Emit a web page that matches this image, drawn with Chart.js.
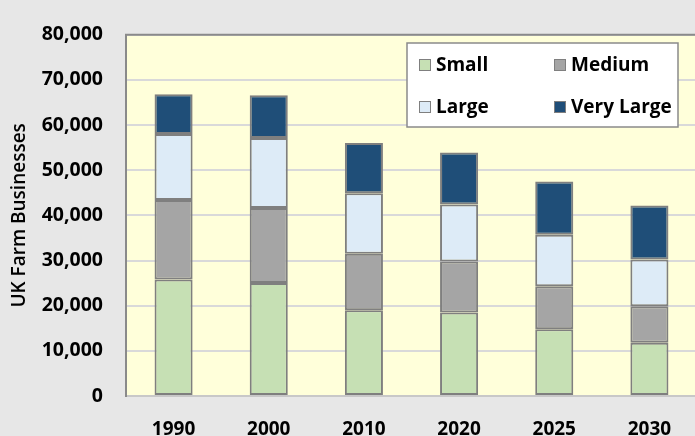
<!DOCTYPE html>
<html>
<head>
<meta charset="utf-8">
<script src="https://cdn.jsdelivr.net/npm/chart.js@4.4.1/dist/chart.umd.min.js"></script>
<style>
  body { margin: 0; background: #e7e7e7; }
  #wrap { width: 695px; height: 436px; overflow: hidden; }
</style>
</head>
<body>
<div id="wrap"><canvas id="graficoFazendas" width="697" height="436"></canvas></div>
<script>
const anos = ['1990', '2000', '2010', '2020', '2025', '2030'];
const pequenas = [25800, 25000, 19000, 18500, 14800, 11800];
const medias = [17600, 16600, 12500, 11300, 9500, 8100];
const grandes = [14600, 15500, 13400, 12600, 11400, 10300];
const muitoGrandes = [8800, 9500, 11100, 11500, 11800, 12000];

const fonte = "'Open Sans', 'DejaVu Sans', sans-serif";

function serie(label, data, cor) {
  return {
    label: label,
    data: data,
    backgroundColor: cor,
    borderColor: '#7f7f7f',
    borderWidth: 2,
    borderSkipped: false,
    barPercentage: 0.4,
    categoryPercentage: 1.0
  };
}

// fundo amarelo da area do grafico + borda de cima
const fundoPlot = {
  id: 'fundoPlot',
  beforeDraw(chart) {
    const { ctx, chartArea } = chart;
    ctx.save();
    ctx.fillStyle = '#ffffda';
    ctx.fillRect(chartArea.left, chartArea.top, chartArea.right - chartArea.left, chartArea.bottom - chartArea.top);
    ctx.restore();
  },
  afterDatasetsDraw(chart) {
    const { ctx, chartArea } = chart;
    ctx.save();
    ctx.strokeStyle = '#8a8a8a';
    ctx.lineWidth = 2;
    ctx.beginPath();
    ctx.moveTo(chartArea.left - 1, chartArea.top);
    ctx.lineTo(chartArea.right, chartArea.top);
    ctx.stroke();
    ctx.restore();
  }
};

// legenda em caixa branca, duas colunas, dentro da area
const legendaCaixa = {
  id: 'legendaCaixa',
  afterDraw(chart) {
    const ctx = chart.ctx;
    const x0 = 407, y0 = 43, w = 271, h = 84;
    ctx.save();
    ctx.fillStyle = '#ffffff';
    ctx.fillRect(x0, y0, w, h);
    ctx.strokeStyle = '#8a8a8a';
    ctx.lineWidth = 1.5;
    ctx.strokeRect(x0, y0, w, h);
    ctx.font = 'bold 19px ' + fonte;
    ctx.textBaseline = 'middle';
    chart.data.datasets.forEach((ds, i) => {
      const col = i % 2, lin = Math.floor(i / 2);
      const bx = x0 + 12 + col * 135;
      const cy = y0 + 22 + lin * 42;
      ctx.fillStyle = ds.backgroundColor;
      ctx.fillRect(bx, cy - 6, 12, 12);
      ctx.strokeStyle = '#7f7f7f';
      ctx.lineWidth = 1;
      ctx.strokeRect(bx + 0.5, cy - 5.5, 11, 11);
      ctx.fillStyle = '#000000';
      ctx.fillText(ds.label, bx + 17, cy + 1);
    });
    ctx.restore();
  }
};

const graficoFazendas = document.getElementById('graficoFazendas');

const grafico = new Chart(graficoFazendas, {
  type: 'bar',
  data: {
    labels: anos,
    datasets: [
      serie('Small', pequenas, '#c6e0b4'),
      serie('Medium', medias, '#a5a5a5'),
      serie('Large', grandes, '#ddebf7'),
      serie('Very Large', muitoGrandes, '#1f4e78')
    ]
  },
  options: {
    responsive: false,
    animation: false,
    layout: { padding: { top: 22, right: 0, bottom: 0, left: 0 } },
    plugins: {
      legend: { display: false },
      tooltip: { enabled: false }
    },
    scales: {
      x: {
        stacked: true,
        grid: { display: false, drawTicks: false },
        border: { color: '#c8c8c8', width: 2 },
        ticks: {
          color: '#000',
          padding: 22,
          font: { family: fonte, size: 19, weight: 'bold' }
        },
        afterFit(scale) { scale.height = 40; }
      },
      y: {
        stacked: true,
        min: 0,
        max: 80000,
        grid: { color: '#d9d9d9', lineWidth: 2, drawTicks: false },
        border: { color: '#8a8a8a', width: 2 },
        ticks: {
          stepSize: 10000,
          color: '#000',
          padding: 23,
          font: { family: fonte, size: 19.5, weight: 'bold' },
          callback: v => v.toLocaleString('en-US')
        },
        title: {
          display: true,
          text: 'UK Farm Businesses',
          color: '#000',
          padding: { top: 8, bottom: 0 },
          font: { family: fonte, size: 19, weight: '600' }
        },
        afterFit(scale) { scale.width = 126; }
      }
    }
  },
  plugins: [fundoPlot, legendaCaixa]
});
</script>
</body>
</html>
